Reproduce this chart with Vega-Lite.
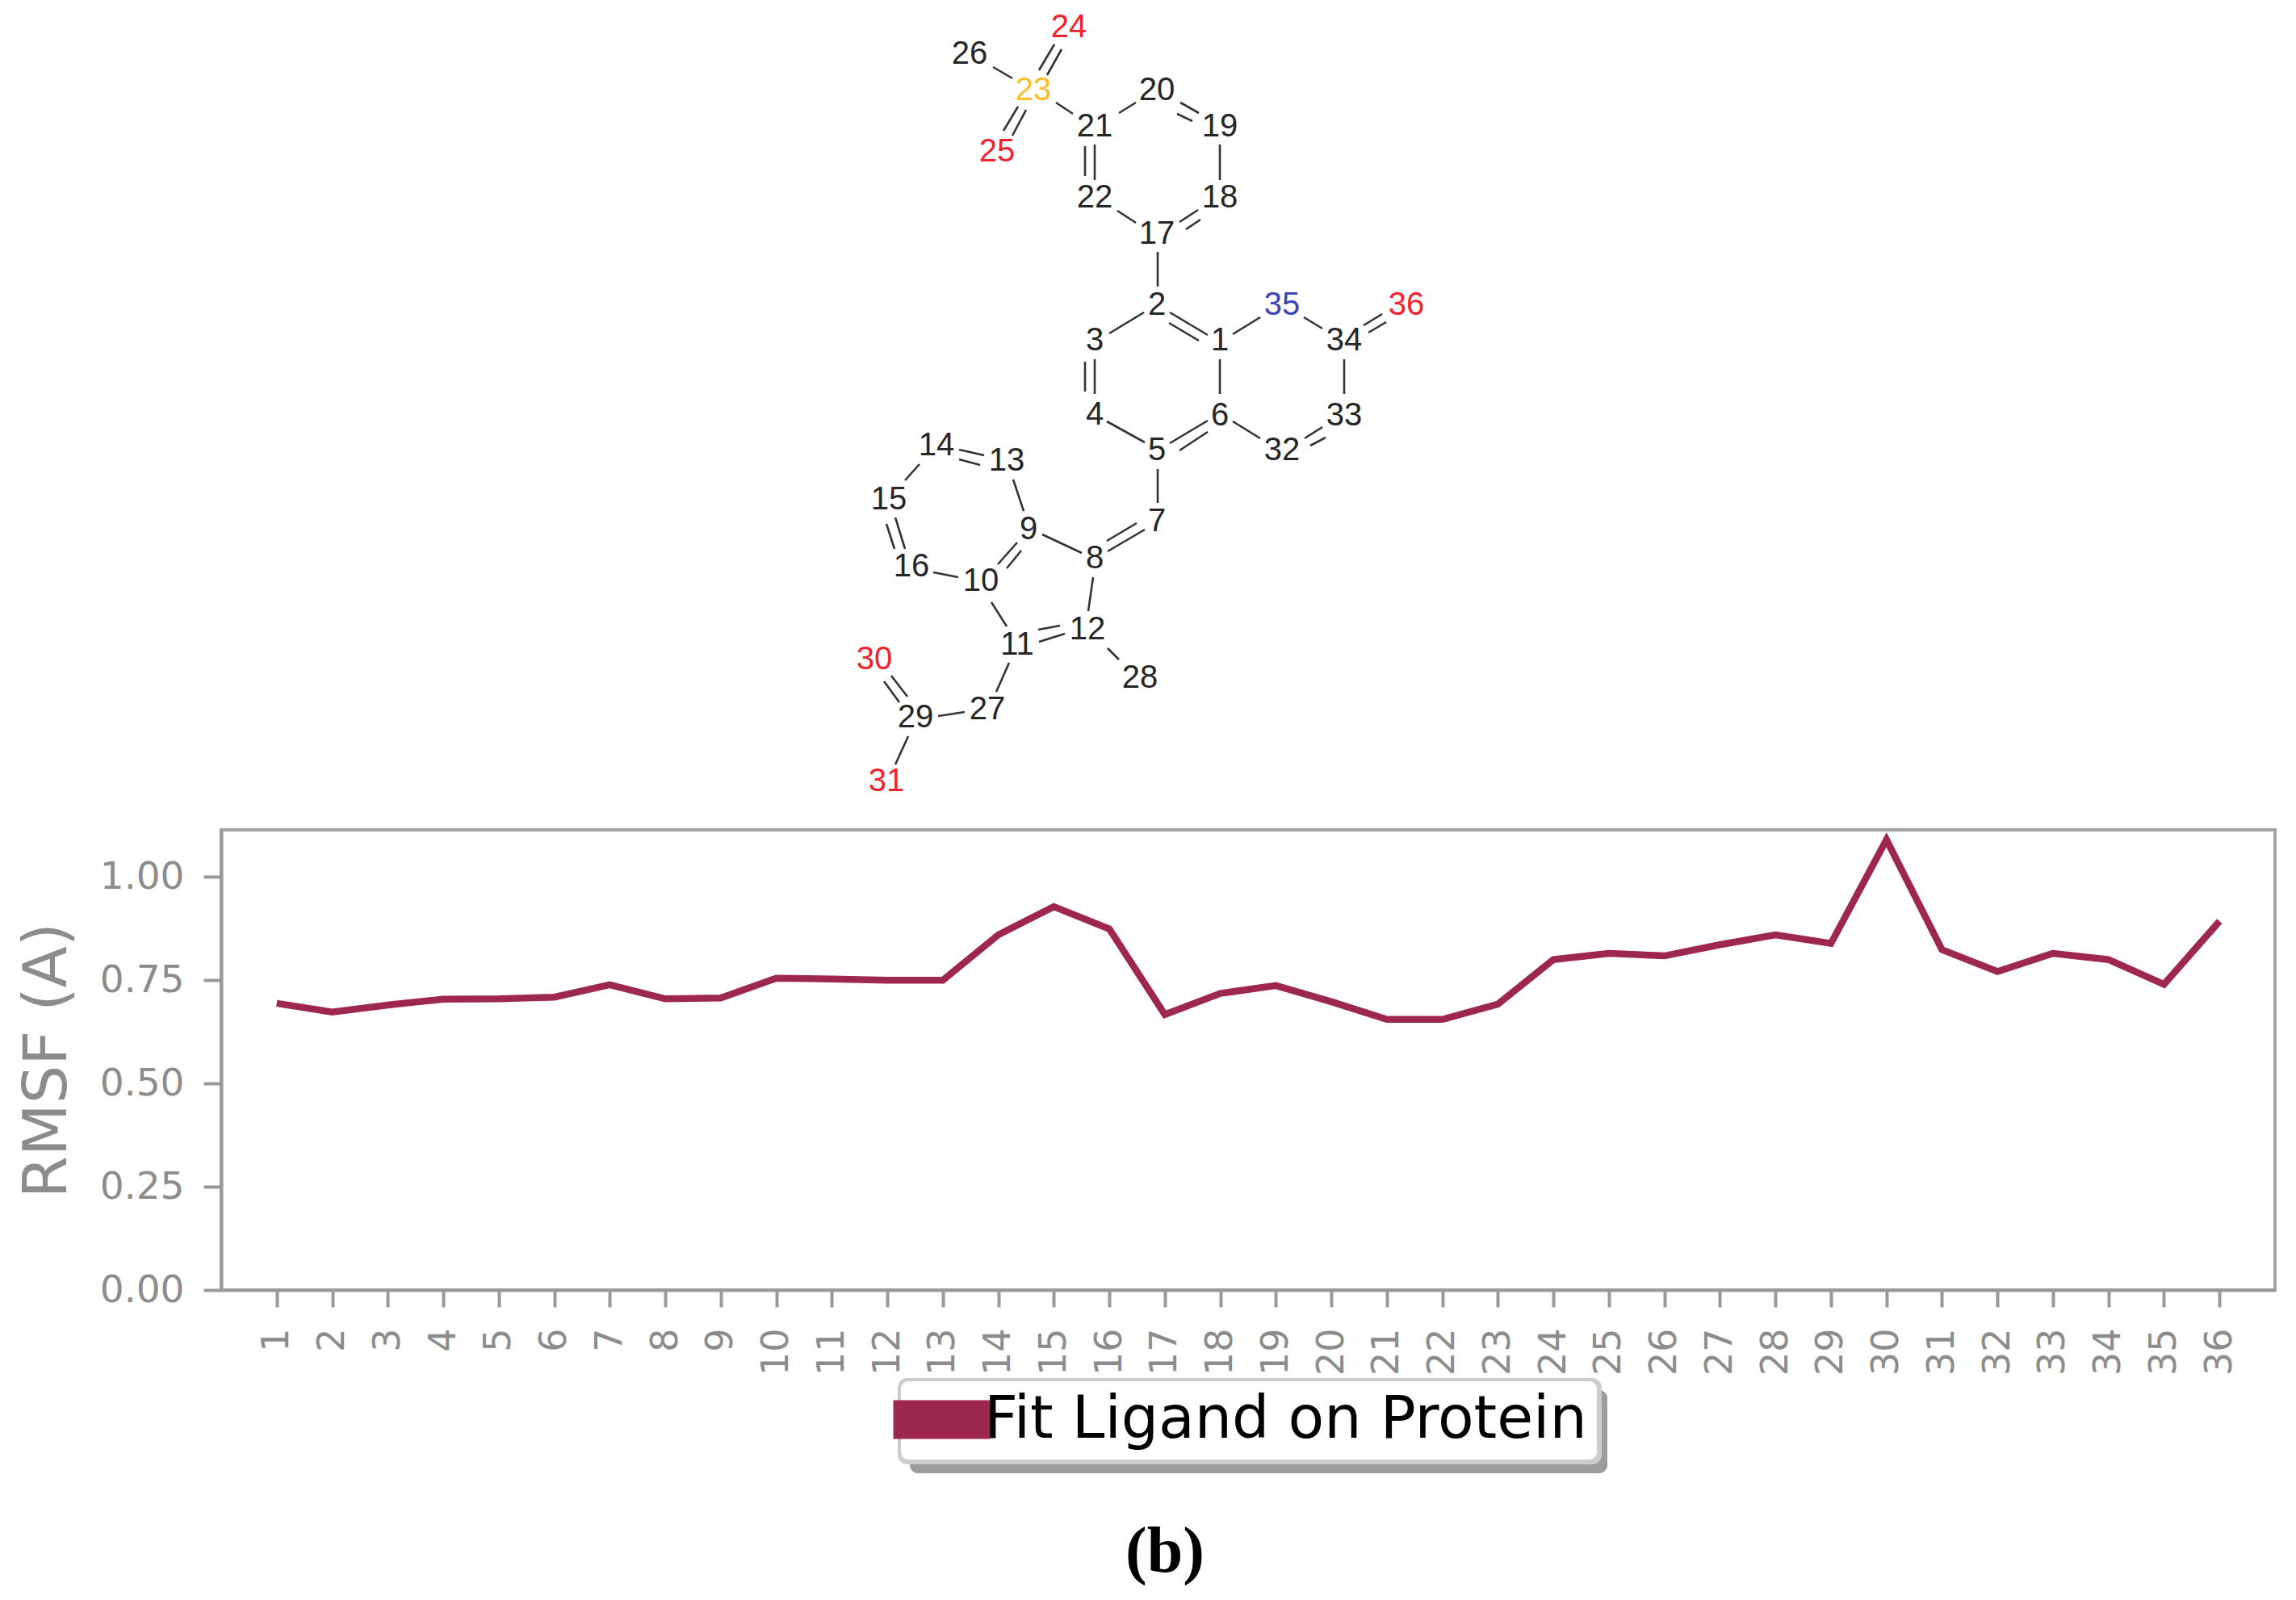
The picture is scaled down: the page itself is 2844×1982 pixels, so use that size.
{"$schema":"https://vega.github.io/schema/vega-lite/v6.json","padding":{"left":19,"top":0,"right":24,"bottom":0},"background":"white","spacing":0,"bounds":"flush","resolve":{"scale":{"color":"independent"},"legend":{"color":"independent"}},"datasets":{"atoms":[{"atom":"1","element":"C","x":1511,"y":420},{"atom":"2","element":"C","x":1433,"y":376},{"atom":"3","element":"C","x":1356,"y":420},{"atom":"4","element":"C","x":1356,"y":512},{"atom":"5","element":"C","x":1433,"y":556},{"atom":"6","element":"C","x":1511,"y":513},{"atom":"7","element":"C","x":1433,"y":644},{"atom":"8","element":"C","x":1356,"y":690},{"atom":"9","element":"C","x":1274,"y":654},{"atom":"10","element":"C","x":1215,"y":718},{"atom":"11","element":"C","x":1260,"y":797},{"atom":"12","element":"C","x":1347,"y":778},{"atom":"13","element":"C","x":1247,"y":569},{"atom":"14","element":"C","x":1160,"y":550},{"atom":"15","element":"C","x":1101,"y":617},{"atom":"16","element":"C","x":1129,"y":700},{"atom":"17","element":"C","x":1433,"y":288},{"atom":"18","element":"C","x":1511,"y":243},{"atom":"19","element":"C","x":1511,"y":155},{"atom":"20","element":"C","x":1433,"y":110},{"atom":"21","element":"C","x":1356,"y":155},{"atom":"22","element":"C","x":1356,"y":243},{"atom":"23","element":"S","x":1280,"y":110},{"atom":"24","element":"O","x":1324,"y":32},{"atom":"25","element":"O","x":1235,"y":186},{"atom":"26","element":"C","x":1201,"y":65},{"atom":"27","element":"C","x":1223,"y":877},{"atom":"28","element":"C","x":1412,"y":838},{"atom":"29","element":"C","x":1134,"y":887},{"atom":"30","element":"O","x":1083,"y":815},{"atom":"31","element":"O","x":1098,"y":966},{"atom":"32","element":"C","x":1588,"y":556},{"atom":"33","element":"C","x":1665,"y":513},{"atom":"34","element":"C","x":1665,"y":420},{"atom":"35","element":"N","x":1588,"y":376},{"atom":"36","element":"O","x":1742,"y":376}],"bonds":[{"bond":"26-23","x":1230,"y":81,"x2":1254,"y2":95},{"bond":"23=24a","x":1287,"y":85,"x2":1306,"y2":53},{"bond":"23=24b","x":1297,"y":91,"x2":1315,"y2":59},{"bond":"23=25a","x":1261,"y":130,"x2":1243,"y2":160},{"bond":"23=25b","x":1271,"y":134,"x2":1254,"y2":166},{"bond":"23-21","x":1308,"y":125,"x2":1329,"y2":139},{"bond":"21-20","x":1386,"y":138,"x2":1407,"y2":125},{"bond":"20=19a","x":1462,"y":125,"x2":1485,"y2":138},{"bond":"20=19b","x":1458,"y":139,"x2":1477,"y2":148},{"bond":"19-18","x":1511,"y":177,"x2":1511,"y2":221},{"bond":"21=22a","x":1356,"y":177,"x2":1356,"y2":221},{"bond":"21=22b","x":1344,"y":179,"x2":1344,"y2":216},{"bond":"22-17","x":1384,"y":259,"x2":1407,"y2":274},{"bond":"17=18a","x":1461,"y":273,"x2":1484,"y2":258},{"bond":"17=18b","x":1469,"y":282,"x2":1487,"y2":270},{"bond":"17-2","x":1434,"y":310,"x2":1434,"y2":353},{"bond":"2-3","x":1374,"y":411,"x2":1417,"y2":385},{"bond":"2=1a","x":1449,"y":385,"x2":1496,"y2":413},{"bond":"2=1b","x":1448,"y":398,"x2":1485,"y2":420},{"bond":"1-35","x":1527,"y":412,"x2":1561,"y2":391},{"bond":"35-34","x":1615,"y":391,"x2":1638,"y2":405},{"bond":"34=36a","x":1689,"y":401,"x2":1712,"y2":387},{"bond":"34=36b","x":1695,"y":410,"x2":1717,"y2":397},{"bond":"3=4a","x":1356,"y":443,"x2":1356,"y2":486},{"bond":"3=4b","x":1344,"y":446,"x2":1344,"y2":483},{"bond":"1-6","x":1511,"y":443,"x2":1511,"y2":486},{"bond":"34-33","x":1665,"y":443,"x2":1665,"y2":486},{"bond":"4-5","x":1371,"y":520,"x2":1418,"y2":546},{"bond":"5=6a","x":1449,"y":547,"x2":1496,"y2":519},{"bond":"5=6b","x":1461,"y":556,"x2":1496,"y2":533},{"bond":"6-32","x":1527,"y":520,"x2":1561,"y2":541},{"bond":"32=33a","x":1616,"y":541,"x2":1638,"y2":527},{"bond":"32=33b","x":1623,"y":550,"x2":1642,"y2":540},{"bond":"5-7","x":1434,"y":579,"x2":1434,"y2":621},{"bond":"7=8a","x":1371,"y":668,"x2":1408,"y2":646},{"bond":"7=8b","x":1372,"y":681,"x2":1418,"y2":654},{"bond":"9-8","x":1291,"y":660,"x2":1340,"y2":683},{"bond":"9=10a","x":1260,"y":670,"x2":1236,"y2":697},{"bond":"9=10b","x":1265,"y":680,"x2":1247,"y2":702},{"bond":"13-9","x":1255,"y":592,"x2":1268,"y2":631},{"bond":"14=13a","x":1188,"y":555,"x2":1219,"y2":562},{"bond":"14=13b","x":1188,"y":567,"x2":1214,"y2":574},{"bond":"14-15","x":1139,"y":573,"x2":1121,"y2":593},{"bond":"15=16a","x":1109,"y":639,"x2":1121,"y2":678},{"bond":"15=16b","x":1098,"y":647,"x2":1108,"y2":678},{"bond":"16-10","x":1156,"y":707,"x2":1187,"y2":713},{"bond":"10-11","x":1228,"y":744,"x2":1247,"y2":774},{"bond":"8-12","x":1354,"y":713,"x2":1348,"y2":755},{"bond":"11=12a","x":1286,"y":778,"x2":1313,"y2":773},{"bond":"11=12b","x":1287,"y":793,"x2":1319,"y2":783},{"bond":"12-28","x":1372,"y":801,"x2":1386,"y2":815},{"bond":"11-27","x":1250,"y":819,"x2":1234,"y2":855},{"bond":"27-29","x":1195,"y":880,"x2":1162,"y2":885},{"bond":"29=30a","x":1124,"y":861,"x2":1104,"y2":835},{"bond":"29=30b","x":1114,"y":868,"x2":1095,"y2":842},{"bond":"29-31","x":1125,"y":910,"x2":1109,"y2":945}],"rmsf":[{"atom":"1","rmsf":0.694},{"atom":"2","rmsf":0.673},{"atom":"3","rmsf":0.69},{"atom":"4","rmsf":0.704},{"atom":"5","rmsf":0.705},{"atom":"6","rmsf":0.709},{"atom":"7","rmsf":0.739},{"atom":"8","rmsf":0.705},{"atom":"9","rmsf":0.707},{"atom":"10","rmsf":0.755},{"atom":"11","rmsf":0.753},{"atom":"12","rmsf":0.75},{"atom":"13","rmsf":0.75},{"atom":"14","rmsf":0.86},{"atom":"15","rmsf":0.928},{"atom":"16","rmsf":0.874},{"atom":"17","rmsf":0.667},{"atom":"18","rmsf":0.718},{"atom":"19","rmsf":0.737},{"atom":"20","rmsf":0.698},{"atom":"21","rmsf":0.655},{"atom":"22","rmsf":0.655},{"atom":"23","rmsf":0.692},{"atom":"24","rmsf":0.8},{"atom":"25","rmsf":0.815},{"atom":"26","rmsf":0.809},{"atom":"27","rmsf":0.836},{"atom":"28","rmsf":0.86},{"atom":"29","rmsf":0.839},{"atom":"30","rmsf":1.09},{"atom":"31","rmsf":0.824},{"atom":"32","rmsf":0.771},{"atom":"33","rmsf":0.815},{"atom":"34","rmsf":0.8},{"atom":"35","rmsf":0.74},{"atom":"36","rmsf":0.893}]},"config":{"view":{"stroke":null}},"vconcat":[{"width":2544,"height":1028,"layer":[{"data":{"name":"bonds"},"mark":{"type":"rule","color":"#333333","strokeWidth":2.6},"encoding":{"x":{"field":"x","type":"quantitative","scale":{"domain":[274,2818],"nice":false,"zero":false},"axis":null},"y":{"field":"y","type":"quantitative","scale":{"domain":[-2,1026],"nice":false,"zero":false,"reverse":true},"axis":null},"x2":{"field":"x2"},"y2":{"field":"y2"}}},{"data":{"name":"atoms"},"mark":{"type":"text","font":"Liberation Sans","fontSize":40,"align":"center","baseline":"middle"},"encoding":{"x":{"field":"x","type":"quantitative","scale":{"domain":[274,2818],"nice":false,"zero":false},"axis":null},"y":{"field":"y","type":"quantitative","scale":{"domain":[-2,1026],"nice":false,"zero":false,"reverse":true},"axis":null},"text":{"field":"atom"},"color":{"field":"element","type":"nominal","legend":null,"scale":{"domain":["C","O","N","S"],"range":["#262626","#f5222d","#3c46b4","#fdbf24"]}}}}]},{"width":2544,"height":570,"view":{"stroke":"#a3a3a3","strokeWidth":4},"data":{"name":"rmsf"},"mark":{"type":"line","color":"#9e2750","strokeWidth":8.5,"strokeJoin":"miter"},"encoding":{"x":{"field":"atom","type":"ordinal","sort":null,"scale":{"type":"point","padding":1},"axis":{"title":null,"labelAngle":270,"labelFont":"DejaVu Sans","labelFontSize":46,"labelColor":"#8c8c8c","labelPadding":26,"labelAlign":"right","labelBaseline":"middle","tickSize":21,"tickWidth":4,"tickColor":"#999999","domainColor":"#999999","domainWidth":4,"grid":false,"labelOverlap":false}},"y":{"field":"rmsf","type":"quantitative","scale":{"domain":[0,1.114],"nice":false},"axis":{"title":"RMSF (A)","titleFont":"DejaVu Sans","titleFontSize":75,"titleFontWeight":"normal","titleColor":"#8c8c8c","titlePadding":26,"values":[0,0.25,0.5,0.75,1],"format":".2f","labelFont":"DejaVu Sans","labelFontSize":47,"labelColor":"#8c8c8c","labelPadding":24,"tickSize":22,"tickWidth":4,"tickColor":"#999999","domainColor":"#999999","domainWidth":4,"grid":false}}}},{"width":2544,"height":384,"layer":[{"data":{"values":[{"part":"shadow","x":1129,"x2":1993,"y":1722,"y2":1825}]},"mark":{"type":"rect","color":"#9c9c9c","cornerRadius":10},"encoding":{"x":{"field":"x","type":"quantitative","scale":{"domain":[276,2820],"nice":false,"zero":false},"axis":null},"x2":{"field":"x2"},"y":{"field":"y","type":"quantitative","scale":{"domain":[1598,1982],"nice":false,"zero":false,"reverse":true},"axis":null},"y2":{"field":"y2"}}},{"data":{"values":[{"part":"frame","x":1114,"x2":1986,"y":1707,"y2":1814}]},"mark":{"type":"rect","color":"#cccccc","cornerRadius":12},"encoding":{"x":{"field":"x","type":"quantitative","scale":{"domain":[276,2820],"nice":false,"zero":false},"axis":null},"x2":{"field":"x2"},"y":{"field":"y","type":"quantitative","scale":{"domain":[1598,1982],"nice":false,"zero":false,"reverse":true},"axis":null},"y2":{"field":"y2"}}},{"data":{"values":[{"label":"(b)","x":1445,"y":1923}]},"mark":{"type":"text","font":"Liberation Serif","fontWeight":"bold","fontSize":80,"color":"#000000","align":"center","baseline":"middle"},"encoding":{"x":{"field":"x","type":"quantitative","scale":{"domain":[276,2820],"nice":false,"zero":false},"axis":null},"y":{"field":"y","type":"quantitative","scale":{"domain":[1598,1982],"nice":false,"zero":false,"reverse":true},"axis":null},"text":{"field":"label"}}},{"data":{"values":[{"series":"Fit Ligand on Protein"}]},"mark":{"type":"point","filled":true,"size":0},"encoding":{"color":{"field":"series","type":"nominal","scale":{"range":["#9e2750"]},"legend":{"title":null,"orient":"none","legendX":841,"legendY":112,"padding":12,"symbolOffset":3,"fillColor":"#ffffff","strokeColor":"#cccccc","cornerRadius":10,"symbolType":"M-2,-0.8H2V0.8H-2Z","symbolSize":3600,"symbolStrokeWidth":0,"symbolOpacity":1,"labelFont":"DejaVu Sans","labelFontSize":73,"labelColor":"#000000","labelOffset":16,"labelLimit":1200}}}}]}]}
